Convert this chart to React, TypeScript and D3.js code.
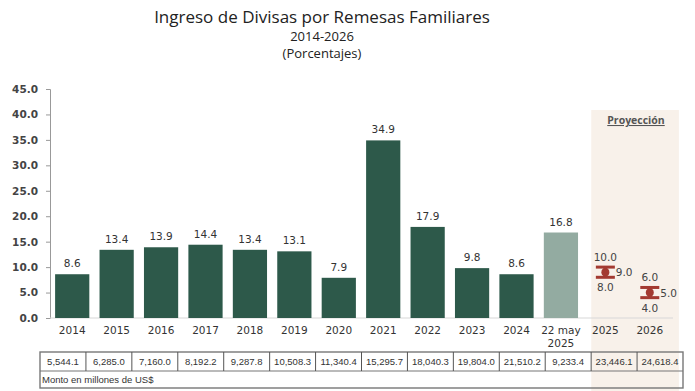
import React, { useEffect, useRef } from 'react';
import * as d3 from 'd3';

// valores
const categories = ['2014', '2015', '2016', '2017', '2018', '2019', '2020', '2021', '2022', '2023', '2024', '22 may|2025', '2025', '2026'];
const values = [8.6, 13.4, 13.9, 14.4, 13.4, 13.1, 7.9, 34.9, 17.9, 9.8, 8.6, 16.8];
const projYears = ['2025', '2026'];
const projLow = [8.0, 4.0];
const projMid = [9.0, 5.0];
const projHigh = [10.0, 6.0];
const amounts = ['5,544.1', '6,285.0', '7,160.0', '8,192.2', '9,287.8', '10,508.3', '11,340.4', '15,295.7', '18,040.3', '19,804.0', '21,510.2', '9,233.4', '23,446.1', '24,618.4'];
const yTicks = [0, 5, 10, 15, 20, 25, 30, 35, 40, 45];

function App() {
  const ref = useRef<SVGSVGElement>(null);

  useEffect(() => {
    document.body.style.margin = '0';
    const svg = d3.select(ref.current);
    svg.selectAll('*').remove();

    const width = 695, height = 391;
    const tickFont = 'DejaVu Sans, Verdana, sans-serif';
    const titleFont = 'Open Sans, Lato, sans-serif';

    const x = d3.scaleBand().domain(categories).range([50, 672]).paddingInner(0.23).paddingOuter(0.115);
    const y = d3.scaleLinear().domain([0, 45]).range([318, 89]);
    const tx = d3.scaleBand().domain(categories).range([40, 683]);

    svg.append('rect').attr('width', width).attr('height', height).attr('fill', '#fff');

    // zona de proyeccion
    const shadeX0 = (x('2025') as number) + 3;
    const shadeX1 = (x('2026') as number) + x.bandwidth() + 12;
    svg.append('rect')
      .attr('x', shadeX0).attr('y', 110)
      .attr('width', shadeX1 - shadeX0).attr('height', height - 110)
      .attr('fill', '#f8f1ea');

    // titulos
    const titles = [
      { t: 'Ingreso de Divisas por Remesas Familiares', y: 23, s: 17 },
      { t: '2014-2026', y: 41, s: 13 },
      { t: '(Porcentajes)', y: 58, s: 13 },
    ];
    svg.selectAll('.title').data(titles).enter().append('text')
      .attr('x', 322).attr('y', d => d.y)
      .attr('text-anchor', 'middle')
      .attr('font-family', titleFont)
      .attr('font-size', d => d.s)
      .attr('fill', '#222')
      .text(d => d.t);

    // eje y
    const yAxis = svg.append('g')
      .attr('transform', 'translate(50,0)')
      .call(d3.axisLeft(y).tickValues(yTicks).tickFormat(d3.format('.1f')).tickSize(4).tickPadding(8));
    yAxis.select('.domain').attr('stroke', '#999');
    yAxis.selectAll('.tick line').attr('stroke', '#999');
    yAxis.selectAll('.tick text')
      .attr('font-family', tickFont).attr('font-size', 10.5).attr('font-weight', 'bold').attr('fill', '#444');

    // linea base
    svg.append('line')
      .attr('x1', 50).attr('x2', 673).attr('y1', y(0)).attr('y2', y(0))
      .attr('stroke', '#d8d8d8').attr('stroke-width', 1.2);

    // barras
    const barData = values.map((v, i) => ({ c: categories[i], v }));
    svg.selectAll('.bar').data(barData).enter().append('rect')
      .attr('x', d => x(d.c) as number)
      .attr('y', d => y(d.v))
      .attr('width', x.bandwidth())
      .attr('height', d => y(0) - y(d.v))
      .attr('fill', d => d.c.startsWith('22') ? '#93aba1' : '#2d594a');

    svg.selectAll('.val').data(barData).enter().append('text')
      .attr('x', d => (x(d.c) as number) + x.bandwidth() / 2)
      .attr('y', d => y(d.v) - 7)
      .attr('text-anchor', 'middle')
      .attr('font-family', tickFont).attr('font-size', 10.5).attr('fill', '#333')
      .text(d => d.v.toFixed(1));

    // etiquetas x
    categories.forEach(c => {
      const lines = c.split('|');
      const t = svg.append('text')
        .attr('x', (x(c) as number) + x.bandwidth() / 2)
        .attr('y', 334)
        .attr('text-anchor', 'middle')
        .attr('font-family', tickFont).attr('font-size', 10.5).attr('fill', '#333');
      lines.forEach((l, i) => {
        t.append('tspan').attr('x', (x(c) as number) + x.bandwidth() / 2).attr('dy', i === 0 ? 0 : 13).text(l);
      });
    });

    // proyeccion
    const red = '#a33a31';
    const capW = 19;
    projYears.forEach((yr, i) => {
      const cx = (x(yr) as number) + x.bandwidth() / 2;
      const g = svg.append('g');
      g.append('rect').attr('x', cx - 2).attr('y', y(projHigh[i])).attr('width', 4).attr('height', y(projLow[i]) - y(projHigh[i])).attr('fill', red);
      g.append('rect').attr('x', cx - capW / 2).attr('y', y(projHigh[i]) - 1.5).attr('width', capW).attr('height', 3).attr('fill', red);
      g.append('rect').attr('x', cx - capW / 2).attr('y', y(projLow[i]) - 1.5).attr('width', capW).attr('height', 3).attr('fill', red);
      g.append('circle').attr('cx', cx).attr('cy', y(projMid[i])).attr('r', 4).attr('fill', red);
      const lbl = (tx0: number, ty: number, v: number, anchor: string) =>
        svg.append('text').attr('x', tx0).attr('y', ty).attr('text-anchor', anchor)
          .attr('font-family', tickFont).attr('font-size', 10.5).attr('fill', '#444').text(v.toFixed(1));
      lbl(cx, y(projHigh[i]) - 6, projHigh[i], 'middle');
      lbl(cx + capW / 2 + 1, y(projMid[i]) + 4, projMid[i], 'start');
      lbl(cx, y(projLow[i]) + 14, projLow[i], 'middle');
    });

    svg.append('text')
      .attr('x', 636).attr('y', 124)
      .attr('text-anchor', 'middle')
      .attr('font-family', titleFont).attr('font-size', 10.5).attr('font-weight', 'bold')
      .attr('fill', '#555').attr('text-decoration', 'underline')
      .text('Proyección');

    // tabla de montos
    const top = 352, mid = 371, bottom = 388;
    const tbl = svg.append('g');
    tbl.append('rect').attr('x', 40).attr('y', top).attr('width', 643).attr('height', bottom - top)
      .attr('fill', 'none').attr('stroke', '#777').attr('stroke-width', 1.4);
    tbl.append('line').attr('x1', 40).attr('x2', 683).attr('y1', mid).attr('y2', mid).attr('stroke', '#777').attr('stroke-width', 1.2);
    categories.slice(1).forEach(c => {
      tbl.append('line').attr('x1', tx(c) as number).attr('x2', tx(c) as number).attr('y1', top).attr('y2', mid)
        .attr('stroke', '#555').attr('stroke-width', 1);
    });
    tbl.selectAll('.amt').data(amounts).enter().append('text')
      .attr('x', (d, i) => (tx(categories[i]) as number) + tx.bandwidth() / 2)
      .attr('y', 365)
      .attr('text-anchor', 'middle')
      .attr('font-family', 'Liberation Sans Narrow, Arial Narrow, Liberation Sans, sans-serif')
      .attr('font-size', 9.5).attr('fill', '#333')
      .text(d => d);
    tbl.append('text').attr('x', 42).attr('y', 383)
      .attr('font-family', 'Liberation Sans Narrow, Arial Narrow, Liberation Sans, sans-serif')
      .attr('font-size', 9.5).attr('fill', '#333')
      .text('Monto en millones de US$');
  }, []);

  return <svg ref={ref} width={695} height={391} style={{ display: 'block' }}></svg>;
}

export default App;
